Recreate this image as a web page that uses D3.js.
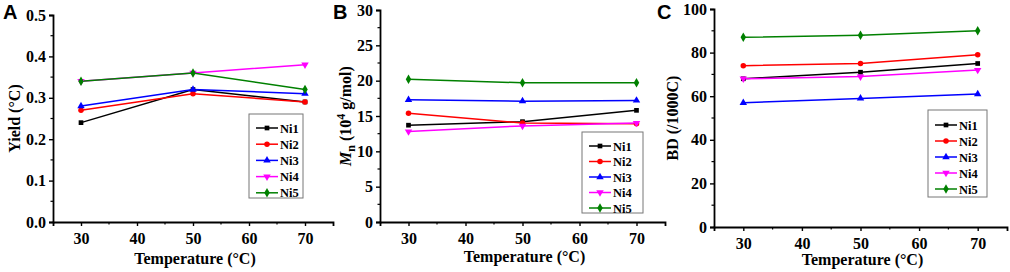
<!DOCTYPE html>
<html>
<head>
<meta charset="utf-8">
<script src="https://cdn.jsdelivr.net/npm/d3@7"></script>
<style>
  body { margin: 0; background: #fff; }
</style>
</head>
<body>
<svg id="chart" width="1010" height="272" font-family="Liberation Serif" font-weight="bold"></svg>
<script>
// data
const temps = [30, 50, 70];
const seriesNames = ["Ni1", "Ni2", "Ni3", "Ni4", "Ni5"];
const colors = ["#000000", "#ff0000", "#0000ff", "#ff00ff", "#008000"];
const xTicks = [30, 40, 50, 60, 70];

const yieldNi1 = [0.24, 0.32, 0.29];
const yieldNi2 = [0.27, 0.31, 0.29];
const yieldNi3 = [0.28, 0.32, 0.31];
const yieldNi4 = [0.34, 0.36, 0.38];
const yieldNi5 = [0.34, 0.36, 0.32];

const mnNi1 = [13.7, 14.2, 15.8];
const mnNi2 = [15.4, 14.0, 13.9];
const mnNi3 = [17.3, 17.1, 17.2];
const mnNi4 = [12.8, 13.6, 14.0];
const mnNi5 = [20.2, 19.7, 19.7];

const bdNi1 = [68, 71, 75];
const bdNi2 = [74, 75, 79];
const bdNi3 = [57, 59, 61];
const bdNi4 = [68, 69, 72];
const bdNi5 = [87, 88, 90];

const yTicksA = [0, 0.1, 0.2, 0.3, 0.4, 0.5];
const yTicksB = [0, 5, 10, 15, 20, 25, 30];
const yTicksC = [0, 20, 40, 60, 80, 100];

const SERIF = "Liberation Serif";
const svg = d3.select("#chart");

// marker shapes per series
const symbols = [
  d3.symbol().type(d3.symbolSquare).size(22),
  d3.symbol().type(d3.symbolCircle).size(24),
  d3.symbol().type(d3.symbolTriangle).size(24),
  d3.symbol().type(d3.symbolTriangle).size(24),
  d3.symbol().type(d3.symbolDiamond).size(26)
];
const symbolRotate = [0, 0, 0, 180, 0];

function drawPanel(p) {
  const g = svg.append("g");
  const x = d3.scaleLinear().domain([25, 75]).range([p.left, p.right]);
  const y = d3.scaleLinear().domain(p.yDomain).range([p.bottom, p.top]);

  // panel letter
  svg.append("text")
    .attr("x", p.letterX).attr("y", 19)
    .attr("font-family", "Liberation Sans")
    .attr("font-weight", "bold")
    .attr("font-size", 20)
    .text(p.letter);

  // minor ticks
  const xMinor = d3.range(35, 75, 10);
  g.selectAll("line.xminor").data(xMinor).enter().append("line")
    .attr("x1", d => x(d)).attr("x2", d => x(d))
    .attr("y1", p.bottom).attr("y2", p.bottom + 2.5)
    .attr("stroke", "#000").attr("stroke-width", 1.2);
  const step = p.yTicks[1] - p.yTicks[0];
  const yMinor = p.yTicks.slice(0, -1).map(d => d + step / 2);
  g.selectAll("line.yminor").data(yMinor).enter().append("line")
    .attr("x1", p.left - 2.5).attr("x2", p.left)
    .attr("y1", d => y(d)).attr("y2", d => y(d))
    .attr("stroke", "#000").attr("stroke-width", 1.2);

  // axes
  const xAxis = g.append("g")
    .attr("transform", `translate(0,${p.bottom})`)
    .call(d3.axisBottom(x).tickValues(xTicks).tickSizeOuter(0).tickSize(4).tickPadding(6.5));
  const yAxis = g.append("g")
    .attr("transform", `translate(${p.left},0)`)
    .call(d3.axisLeft(y).tickValues(p.yTicks).tickSizeOuter(0).tickSize(4).tickPadding(3)
      .tickFormat(p.yFormat));
  [xAxis, yAxis].forEach(a => {
    a.attr("font-family", SERIF).attr("font-size", 16).attr("font-weight", "bold");
    a.select(".domain").attr("stroke-width", 1.8);
    a.selectAll(".tick line").attr("stroke-width", 1.4);
    a.selectAll(".tick text").attr("fill", "#000");
  });

  // axis titles
  svg.append("text")
    .attr("x", (p.left + p.right) / 2 + 2).attr("y", p.xTitleY)
    .attr("text-anchor", "middle")
    .attr("font-family", SERIF).attr("font-size", 16)
    .text("Temperature (°C)");
  const yt = svg.append("text")
    .attr("transform", `translate(${p.yTitleX},${(p.top + p.bottom) / 2 + p.yTitleShift}) rotate(-90)`)
    .attr("text-anchor", "middle")
    .attr("font-family", SERIF).attr("font-size", 16);
  p.yTitle(yt);

  // lines + markers
  const line = d3.line().x((d, i) => x(temps[i])).y(d => y(d));
  p.series.forEach((vals, si) => {
    g.append("path").datum(vals)
      .attr("d", line).attr("fill", "none")
      .attr("stroke", colors[si]).attr("stroke-width", 1.5);
  });
  p.series.forEach((vals, si) => {
    g.selectAll(null).data(vals).enter().append("path")
      .attr("d", symbols[si])
      .attr("transform", (d, i) => `translate(${x(temps[i])},${y(d)}) rotate(${symbolRotate[si]})`)
      .attr("fill", colors[si]);
  });

  // legend
  const lg = svg.append("g").attr("transform", `translate(${p.legend[0]},${p.legend[1]})`);
  lg.append("rect")
    .attr("width", p.legend[2]).attr("height", p.legend[3])
    .attr("fill", "#fff").attr("stroke", "#777").attr("stroke-width", 1);
  seriesNames.forEach((name, si) => {
    const ly = p.legendY0 + si * p.legendStep;
    lg.append("line")
      .attr("x1", 7).attr("x2", 29).attr("y1", ly).attr("y2", ly)
      .attr("stroke", colors[si]).attr("stroke-width", 1.5);
    lg.append("path").attr("d", symbols[si])
      .attr("transform", `translate(18,${ly}) rotate(${symbolRotate[si]})`)
      .attr("fill", colors[si]);
    lg.append("text")
      .attr("x", 31).attr("y", ly + 4.5)
      .attr("font-family", SERIF).attr("font-size", 12.5)
      .text(name);
  });
}

drawPanel({
  letter: "A", letterX: 3,
  left: 53, right: 333, top: 15, bottom: 222,
  yDomain: [0, 0.5], yTicks: yTicksA, yFormat: d3.format(".1f"),
  xTitleY: 264, yTitleX: 20, yTitleShift: 0,
  yTitle: t => t.text("Yield (°C)"),
  series: [yieldNi1, yieldNi2, yieldNi3, yieldNi4, yieldNi5],
  legend: [249, 114, 54, 84], legendY0: 14, legendStep: 16.2
});

drawPanel({
  letter: "B", letterX: 333,
  left: 380, right: 665, top: 10, bottom: 222,
  yDomain: [0, 30], yTicks: yTicksB, yFormat: d3.format("d"),
  xTitleY: 262, yTitleX: 351, yTitleShift: 0,
  yTitle: t => {
    t.append("tspan").attr("font-style", "italic").text("M");
    t.append("tspan").attr("dy", 4).attr("font-size", 12).text("n");
    t.append("tspan").attr("dy", -4).text(" (10");
    t.append("tspan").attr("dy", -6).attr("font-size", 12).text("4");
    t.append("tspan").attr("dy", 6).text(" g/mol)");
  },
  series: [mnNi1, mnNi2, mnNi3, mnNi4, mnNi5],
  legend: [582, 132, 61, 81], legendY0: 14, legendStep: 15.5
});

drawPanel({
  letter: "C", letterX: 657,
  left: 714, right: 1007, top: 9, bottom: 227,
  yDomain: [0, 100], yTicks: yTicksC, yFormat: d3.format("d"),
  xTitleY: 265, yTitleX: 678, yTitleShift: 0,
  yTitle: t => t.text("BD (/1000C)"),
  series: [bdNi1, bdNi2, bdNi3, bdNi4, bdNi5],
  legend: [928, 110, 59, 87], legendY0: 15, legendStep: 16
});
</script>
</body>
</html>
